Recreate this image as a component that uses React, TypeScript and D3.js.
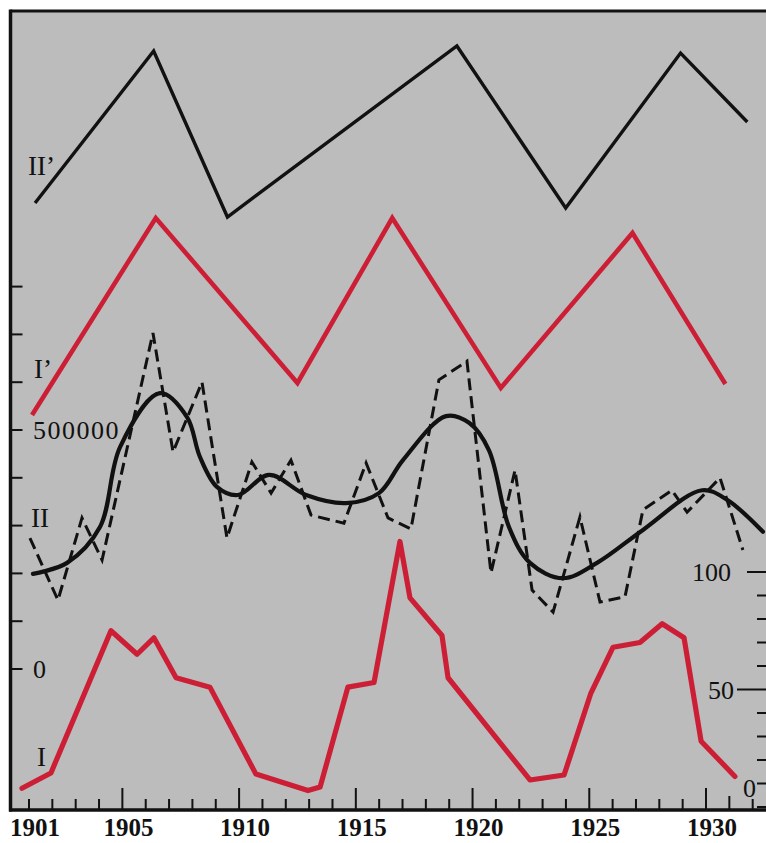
import React from 'react';
import * as d3 from 'd3';

const W = 766;
const H = 843;

// Time axis
const axisYears = d3.range(1901, 1933);
const labelYears = [1901, 1905, 1910, 1915, 1920, 1925, 1930];

// II′ — cycle phases of series II (upper black zigzag), arbitrary 0–100 scale
const phaseIIYears = [1901.26, 1906.34, 1909.5, 1919.33, 1923.99, 1928.91, 1931.77];
const phaseIIValues = [13.5, 89.5, 6.5, 92, 11, 88.5, 54];

// I′ — cycle phases of series I (red zigzag), arbitrary 0–100 scale
const phaseIYears = [1901.13, 1906.43, 1912.5, 1916.56, 1921.21, 1926.85, 1930.83];
const phaseIValues = [2.5, 101, 18.5, 101, 16, 93.5, 18];

// II — observed values (dashed)
const seriesIIYears = [
  1901.04, 1902.24, 1903.27, 1904.13, 1906.31, 1907.17, 1908.41, 1909.48, 1910.55, 1911.37,
  1912.22, 1913.08, 1914.49, 1915.44, 1916.38, 1917.36, 1918.56, 1919.76, 1920.79, 1921.82,
  1922.55, 1923.45, 1924.6, 1925.46, 1926.53, 1927.3, 1928.54, 1929.19, 1930.6, 1931.58,
];
const seriesIIValues = [
  274000, 144000, 316000, 228000, 703000, 454000, 600000, 274000, 433000, 368000,
  437000, 322000, 305000, 431000, 316000, 293000, 605000, 644000, 201000, 416000,
  165000, 119000, 318000, 140000, 151000, 333000, 374000, 328000, 400000, 249000,
];

// II — smoothed trend (solid black curve)
const trendIIYears = [
  1901.17, 1902.63, 1904.04, 1904.9, 1906.61, 1907.77, 1908.32, 1909.05, 1909.95, 1911.28,
  1912.87, 1914.58, 1915.99, 1917.02, 1918.86, 1919.85, 1920.7, 1921.56, 1922.46, 1923.87,
  1925.33, 1927.3, 1929.83, 1930.9, 1932.44,
];
const trendIIValues = [
  199000, 222000, 297000, 464000, 577000, 527000, 444000, 381000, 364000, 406000,
  364000, 347000, 368000, 437000, 529000, 515000, 458000, 297000, 222000, 190000,
  222000, 291000, 374000, 354000, 287000,
];

// I — red series, right-hand scale 0–100
const seriesIYears = [
  1900.7, 1901.94, 1904.51, 1905.63, 1906.35, 1907.3, 1908.75, 1910.72, 1912.95, 1913.47,
  1914.66, 1915.78, 1916.89, 1917.32, 1918.69, 1918.95, 1922.46, 1923.92, 1925.07, 1926.02,
  1927.17, 1928.12, 1929.06, 1929.79, 1931.24,
];
const seriesIValues = [
  8, 14.5, 75, 65, 72, 55, 51, 14, 7, 8.5,
  51, 53, 113, 89, 73, 55, 11.5, 13.6, 48.5, 68,
  70, 78, 72, 28, 13,
];

// Axis ticks
const leftTicks = d3.range(0, 800001, 100000);
const rightTicks = d3.range(0, 101, 10);

const RED = '#cc1f36';
const INK = '#111';
const PANEL = '#bcbcbc';
const FONT = '"Liberation Serif", "DejaVu Serif", serif';

type P = [number, number];
const zip = (a: number[], b: number[]): P[] => a.map((v, i) => [v, b[i]]);

export default function App() {
  const x = d3.scaleLinear().domain([1901, 1930]).range([29, 706]);
  const yPhaseII = d3.scaleLinear().domain([0, 100]).range([230, 30]);
  const yPhaseI = d3.scaleLinear().domain([0, 100]).range([420, 220]);
  const yII = d3.scaleLinear().domain([0, 500000]).range([669, 430]);
  const yI = d3.scaleLinear().domain([0, 100]).range([807, 572]);

  const lineWith = (ys: d3.ScaleLinear<number, number>, curve: d3.CurveFactory = d3.curveLinear) =>
    d3.line<P>().x((d) => x(d[0])).y((d) => ys(d[1])).curve(curve);

  const pathPhaseII = lineWith(yPhaseII)(zip(phaseIIYears, phaseIIValues)) || '';
  const pathPhaseI = lineWith(yPhaseI)(zip(phaseIYears, phaseIValues)) || '';
  const pathII = lineWith(yII)(zip(seriesIIYears, seriesIIValues)) || '';
  const pathTrend = lineWith(yII, d3.curveCatmullRom.alpha(0.5))(zip(trendIIYears, trendIIValues)) || '';
  const pathI = lineWith(yI)(zip(seriesIYears, seriesIValues)) || '';

  const axisY = 810;
  const axisX = 10.5;

  return (
    <svg
      width={W}
      height={H}
      viewBox={`0 0 ${W} ${H}`}
      style={{ position: 'absolute', left: 0, top: 0, background: '#ffffff' }}
      fontFamily={FONT}
    >
      {/* panel */}
      <rect x={axisX} y={11} width={W - axisX} height={axisY - 11} fill={PANEL} />
      <line x1={axisX} x2={W} y1={11} y2={11} stroke={INK} strokeWidth={3} />

      {/* phase lines */}
      <path d={pathPhaseII} fill="none" stroke={INK} strokeWidth={3.4} strokeLinejoin="miter" />
      <path d={pathPhaseI} fill="none" stroke={RED} strokeWidth={4.6} strokeLinejoin="miter" />

      {/* series II */}
      <path d={pathII} fill="none" stroke={INK} strokeWidth={3} strokeDasharray="12 6" strokeLinejoin="miter" />
      <path d={pathTrend} fill="none" stroke={INK} strokeWidth={4.2} strokeLinecap="round" />

      {/* series I */}
      <path d={pathI} fill="none" stroke={RED} strokeWidth={5.2} strokeLinejoin="round" strokeLinecap="round" />

      {/* left axis */}
      <line x1={axisX} x2={axisX} y1={9.5} y2={axisY + 1.5} stroke={INK} strokeWidth={3.5} />
      {leftTicks.map((t) => (
        <line key={`lt${t}`} x1={axisX} x2={axisX + 12} y1={yII(t)} y2={yII(t)} stroke={INK} strokeWidth={2} />
      ))}
      <text
        x={33}
        y={yII(500000)}
        dy="0.35em"
        fontSize={26}
        letterSpacing={1.5}
        fill={INK}
        stroke={PANEL}
        strokeWidth={3}
        paintOrder="stroke"
      >
        500000
      </text>
      <text x={33} y={yII(0)} dy="0.35em" fontSize={26} fill={INK}>
        0
      </text>

      {/* series names */}
      <text x={28} y={166} dy="0.35em" fontSize={27} fill={INK}>II’</text>
      <text x={34} y={369} dy="0.35em" fontSize={27} fill={INK}>I’</text>
      <text x={31} y={518} dy="0.35em" fontSize={27} fill={INK}>II</text>
      <text x={37} y={757} dy="0.35em" fontSize={27} fill={INK}>I</text>

      {/* right axis */}
      {rightTicks.map((t) => {
        const len = t === 50 ? 29 : t === 100 ? 19 : 9;
        return (
          <line key={`rt${t}`} x1={W - len} x2={W} y1={yI(t)} y2={yI(t)} stroke={INK} strokeWidth={2} />
        );
      })}
      <text x={731} y={yI(100)} dy="0.35em" fontSize={26} textAnchor="end" fill={INK}>100</text>
      <text x={734} y={yI(50)} dy="0.35em" fontSize={26} textAnchor="end" fill={INK}>50</text>
      <text x={743} y={yI(0) - 19} dy="0.35em" fontSize={26} fill={INK}>0</text>

      {/* bottom axis */}
      {axisYears.map((yr) => {
        const tall = yr % 5 === 0;
        const len = tall ? 22 : yr === 1931 ? 14 : 11;
        return (
          <line key={`bt${yr}`} x1={x(yr)} x2={x(yr)} y1={axisY} y2={axisY - len} stroke={INK} strokeWidth={2} />
        );
      })}
      <line x1={axisX - 1.5} x2={W} y1={axisY} y2={axisY} stroke={INK} strokeWidth={3.5} />
      {labelYears.map((yr) => (
        <text
          key={`bl${yr}`}
          x={x(yr) + 6}
          y={836}
          fontSize={25}
          fontWeight="bold"
          textAnchor="middle"
          fill={INK}
        >
          {yr}
        </text>
      ))}
    </svg>
  );
}
